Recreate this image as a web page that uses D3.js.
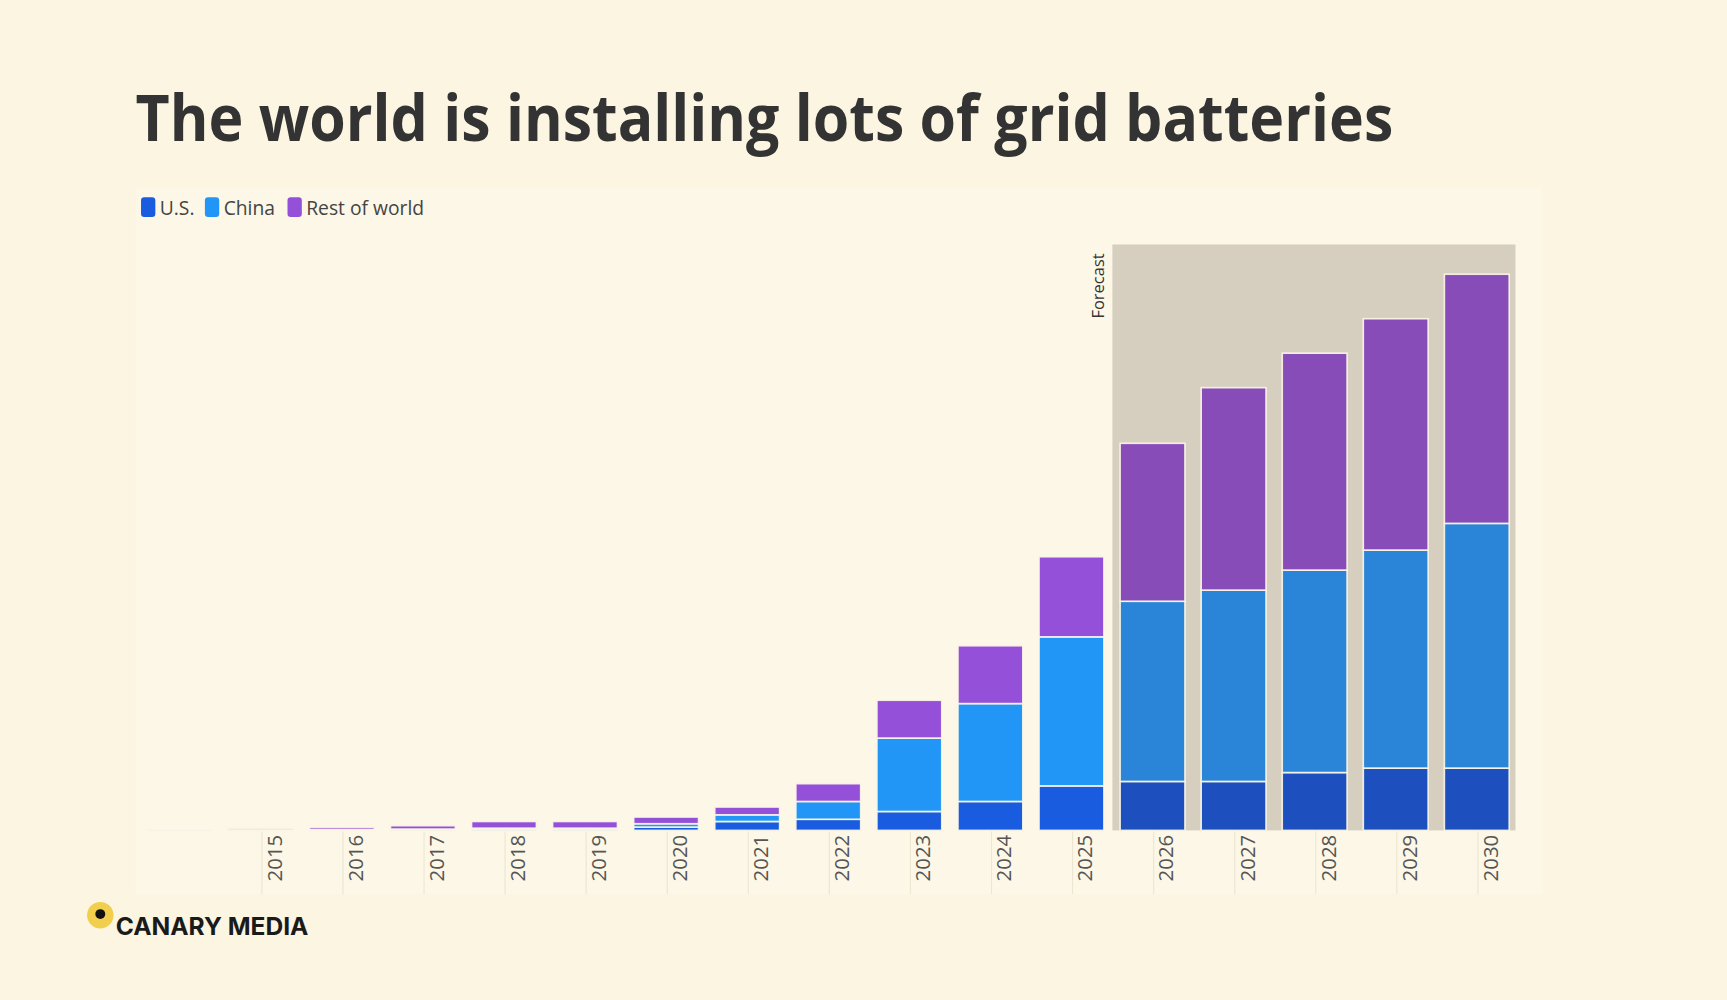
<!DOCTYPE html>
<html><head><meta charset="utf-8">
<script src="https://cdn.jsdelivr.net/npm/d3@7"></script>
<style>body{margin:0;background:#fbf5e2}</style></head>
<body>
<script>
var years = ["2014","2015","2016","2017","2018","2019","2020","2021","2022","2023","2024","2025","2026","2027","2028","2029","2030"];
var yearLabels = ["","2015","2016","2017","2018","2019","2020","2021","2022","2023","2024","2025","2026","2027","2028","2029","2030"];
var us    = [0, 0.1, 0.2, 0.3, 0.5, 0.5, 1.5, 4, 5, 8.5, 13, 20, 22, 22, 26, 28, 28];
var china = [0, 0.1, 0.2, 0.3, 0.5, 0.5, 1.5, 3, 8, 33, 44, 67, 81, 86, 91, 98, 110];
var rest  = [0.2, 0.6, 1, 1.5, 3, 3, 3, 3.5, 8, 17, 26, 36, 71, 91, 97.5, 104, 112];
var seriesNames = ["U.S.", "China", "Rest of world"];
var firstForecast = "2026";

var colors = ["#1a5ce0", "#2196f7", "#9550d9"];
var forecastColors = ["#1e4fbf", "#2a84d8", "#874cb8"];

var svg = d3.select("body").append("svg").attr("width",1727).attr("height",1000).attr("viewBox","0 0 1568 908");
svg.append("rect").attr("width",1568).attr("height",908).attr("fill","#fbf5e2");
svg.append("rect").attr("x",123).attr("y",170).attr("width",1277).attr("height",642).attr("fill","#fcf7e6");

svg.append("text").attr("x",123).attr("y",128).attr("font-family","Open Sans").attr("font-weight","bold")
  .attr("font-size",58).attr("fill","#333").attr("textLength",1142).attr("lengthAdjust","spacingAndGlyphs")
  .text("The world is installing lots of grid batteries");

var x = d3.scaleBand().domain(years).range([130,1374]).paddingInner(0.2).paddingOuter(0.05);
var y = d3.scaleLinear().domain([0,250]).range([754,249]);

// forecast shading
var fx = 1010;
svg.append("rect").attr("x",fx).attr("y",222).attr("width",1376-fx).attr("height",754-222).attr("fill","#d6cfc0");
svg.append("text").attr("transform","translate("+(fx-8)+",230) rotate(-90)").attr("text-anchor","end")
  .attr("font-family","Open Sans").attr("font-size",15).attr("fill","#333").text("Forecast");

var rows = years.map(function(yr,i){ return {year:yr, s0:us[i], s1:china[i], s2:rest[i]}; });
var stack = d3.stack().keys(["s0","s1","s2"])(rows);
stack.forEach(function(layer, k){
  svg.append("g").selectAll("rect").data(layer).enter().append("rect")
    .attr("x", function(d){ return x(d.data.year); })
    .attr("width", x.bandwidth())
    .attr("y", function(d){ return y(d[1]); })
    .attr("height", function(d){ return Math.max(0, y(d[0]) - y(d[1])); })
    .attr("fill", function(d){ return +d.data.year >= +firstForecast ? forecastColors[k] : colors[k]; })
    .attr("stroke","#fcf7e6").attr("stroke-width",1.5).attr("stroke-opacity",0.9);
});

// x axis labels and grid ticks
var ax = svg.append("g");
ax.selectAll("line").data(years.slice(1)).enter().append("line")
  .attr("x1", function(d){ return x(d)+x.bandwidth()/2+1; }).attr("x2", function(d){ return x(d)+x.bandwidth()/2+1; })
  .attr("y1",755).attr("y2",812).attr("stroke","#ece6d2").attr("stroke-width",1);
ax.selectAll("text").data(years).enter().append("text")
  .attr("transform", function(d){ return "translate("+(x(d)+x.bandwidth()/2+19)+",758) rotate(-90)"; })
  .attr("text-anchor","end").attr("font-family","Open Sans").attr("font-size",18.5).attr("fill","#555")
  .text(function(d,i){ return yearLabels[i]; });

// legend
var lx = [128, 186, 261];
seriesNames.forEach(function(n,i){
  svg.append("rect").attr("x",lx[i]).attr("y",179).attr("width",13).attr("height",18).attr("rx",3).attr("fill",colors[i]);
  svg.append("text").attr("x",lx[i]+17).attr("y",195).attr("font-family","Open Sans").attr("font-size",17.5).attr("fill","#444").text(n);
});

// logo
svg.append("circle").attr("cx",91).attr("cy",831).attr("r",12).attr("fill","#f1cf4c");
svg.append("circle").attr("cx",91).attr("cy",830).attr("r",4.5).attr("fill","#111");
svg.append("text").attr("x",105).attr("y",849).attr("font-family","Inter").attr("font-weight","bold")
  .attr("font-size",22).attr("textLength",175).attr("lengthAdjust","spacingAndGlyphs").attr("fill","#1a1a1a").text("CANARY MEDIA");
</script>
</body></html>
